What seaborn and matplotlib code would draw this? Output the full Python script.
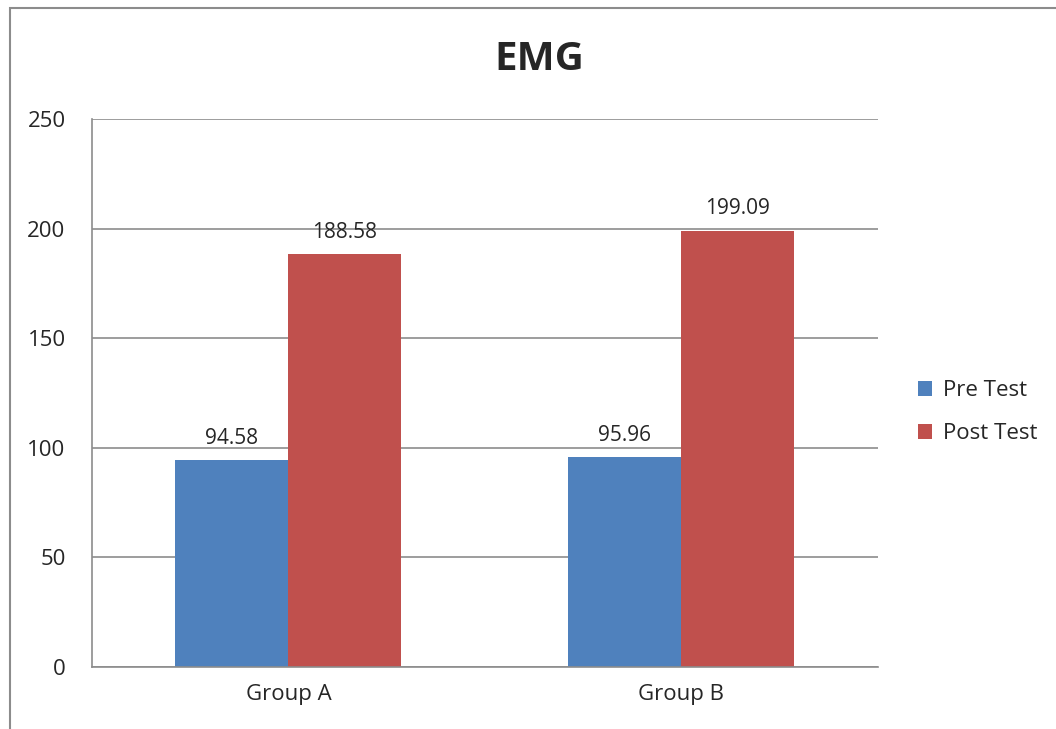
import pandas as pd
import seaborn as sns
import matplotlib.pyplot as plt
from matplotlib.patches import Rectangle

# Dữ liệu
groups = ["Group A", "Group B"]
tests = ["Pre Test", "Post Test"]
pre_values = [94.58, 95.96]
post_values = [188.58, 199.09]
bar_colors = ["#4F81BD", "#C0504D"]

data = pd.DataFrame({
    "group": groups * 2,
    "test": [tests[0]] * 2 + [tests[1]] * 2,
    "value": pre_values + post_values,
})

sns.set_style("white")
plt.rcParams["font.family"] = ["Open Sans", "DejaVu Sans"]

fig = plt.figure(figsize=(10.56, 7.29), dpi=100)
ax = fig.add_axes([0.0871, 0.0850, 0.7443, 0.7518])

sns.barplot(data=data, x="group", y="value", hue="test", palette=bar_colors,
            width=0.575, saturation=1, linewidth=0, ax=ax, legend=True)

# Nhãn giá trị trên cột
for container in ax.containers:
    ax.bar_label(container, fmt="%.2f", padding=8, fontsize=15)

ax.set_ylim(0, 250)
ax.set_xlim(-0.5, 1.5)
ax.set_yticks(range(0, 251, 50))
ax.yaxis.grid(True, color="#8c8c8c", linewidth=1.2)
ax.set_axisbelow(True)
ax.tick_params(axis="both", length=0, labelsize=16)
ax.tick_params(axis="y", pad=19)
ax.tick_params(axis="x", pad=12)
ax.set_xlabel("")
ax.set_ylabel("")
for side in ["top", "right"]:
    ax.spines[side].set_visible(False)
for side in ["left", "bottom"]:
    ax.spines[side].set_color("#8c8c8c")
    ax.spines[side].set_linewidth(1.2)

leg = ax.legend(loc="center left", bbox_to_anchor=(1.025, 0.465), frameon=False,
                fontsize=16, handlelength=0.65, handleheight=0.65,
                handletextpad=0.5, labelspacing=1.0)

fig.text(0.511, 1 - 60 / 729, "EMG", ha="center", va="center",
         fontsize=29, fontweight="bold")

# Khung viền biểu đồ
fig.patches.append(Rectangle((10 / 1056, -0.05), 1.2, 1 - 8 / 729 + 0.05,
                             transform=fig.transFigure, fill=False,
                             edgecolor="#8c8c8c", linewidth=1.5))

fig.savefig("out.png", dpi=100)
